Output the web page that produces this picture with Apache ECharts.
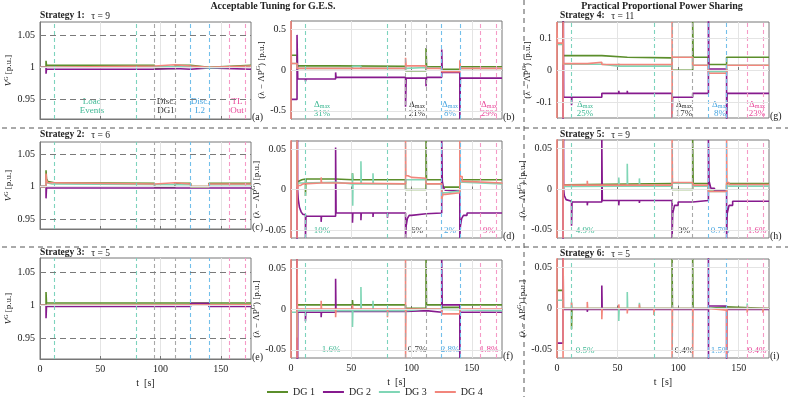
<!DOCTYPE html>
<html>
<head>
<meta charset="utf-8">
<script src="https://cdn.jsdelivr.net/npm/echarts@6/dist/echarts.min.js"></script>
<style>
html, body { margin: 0; padding: 0; background: #fff; }
#chart { width: 793px; height: 397px; }
</style>
</head>
<body>
<div id="chart"></div>
<script>
// ---- data (t in s, values in p.u.) ----
const tTicks = [0, 50, 100, 150];
const vTicks = [0.95, 1, 1.05];
const wideTicks = [-0.5, 0, 0.5];
const midTicks = [-0.1, 0, 0.1];
const fineTicks = [-0.05, 0, 0.05];
const eventTimes = [12, 80, 95, 112, 125, 140, 157, 170];
const eventKinds = ['load', 'load', 'dg', 'dg', 'l2', 'l2', 'tl', 'tl'];
const seriesNames = ['DG 1', 'DG 2', 'DG 3', 'DG 4'];

// (a) strategy 1, V^G
const a_dg1 = [[0,1.0],[5,1.01],[5.4,1.003],[95,0.998],[112,1.003],[125,1.0],[140,1.003],[175,1.003]];
const a_dg2 = [[0,1.0],[5,0.99],[5.4,0.997],[95,0.998],[112,0.997],[125,0.999],[140,0.997],[175,0.997]];
const a_dg3 = [[0,1.0],[5,1.001],[125,0.999],[140,1.001],[175,1.001]];
const a_dg4 = [[0,1.0],[5,1.002],[95,1.004],[112,1.002],[125,1.0],[140,1.002],[175,1.002]];
// (c) strategy 2, V^G
const c_dg1 = [[0,1.0],[5,1.025],[5.4,1.012],[6.5,1.008],[8,1.006],[12,1.005],[95,0.999],[112,1.005],[125,1.0],[140,1.005],[175,1.005]];
const c_dg2 = [[0,1.0],[5,0.982],[5.4,0.998],[175,0.998]];
const c_dg3 = [[0,1.0],[5,1.01],[5.4,1.006],[7,1.004],[10,1.003],[125,0.999],[140,1.003],[175,1.003]];
const c_dg4 = [[0,1.0],[5,1.02],[5.4,1.01],[6.5,1.006],[9,1.004],[95,1.006],[112,1.004],[125,1.0],[140,1.004],[175,1.004]];
// (e) strategy 3, V^G
const e_dg1 = [[0,1.0],[5,1.02],[5.4,1.0035],[175,1.0035]];
const e_dg2 = [[0,1.0],[5,0.98],[5.4,0.998],[125,1.003],[140,0.998],[175,0.998]];
const e_dg3 = [[0,1.0],[175,1.0]];
const e_dg4 = [[0,1.0],[5,1.0005],[175,1.0005]];

// (b) strategy 1, lambda - Lambda P^G
const b_dg1 = [[0,0.18],[5,0.05],[37,0.045],[95,-0.01],[112,0.27],[112.5,0.04],[125,0.01],[140,0.04],[175,0.04]];
const b_dg2 = [[0,-0.36],[5,0.43],[5.6,-0.11],[12,-0.14],[12.4,-0.11],[37,-0.03],[37.4,-0.09],[58,-0.1],[58.4,-0.09],[95,-0.45],[95.5,-0.1],[112,-0.2],[112.4,-0.09],[125,0.25],[125.4,-0.03],[140,-0.6],[140.5,-0.1],[175,-0.1]];
const b_dg3 = [[0,0.08],[5,0.02],[51,0.045],[58,0.02],[95,0.03],[112,0.02],[125,-0.01],[140,0.02],[175,0.02]];
const b_dg4 = [[0,-0.6],[0.01,0.6],[0.3,0.08],[5,0.02],[95,0.15],[95.5,0.05],[112,0.02],[125,-0.02],[140,0.12],[140.5,0.02],[175,0.02]];
// (d) strategy 2
const d_dg1 = [[0,0.18],[5,0.006],[6,0.01],[7.5,0.012],[9,0.013],[12,-0.008],[12.4,0.013],[37,0.012],[51,0.02],[51.3,0.012],[95,0],[112,0.06],[112.4,0.012],[125,0.003],[140,0.012],[175,0.012]];
const d_dg2 = [[0,-0.36],[5,0.43],[5.5,0],[6,-0.012],[7,-0.022],[8.5,-0.028],[10,-0.031],[12,-0.06],[12.4,-0.033],[25,-0.04],[25.3,-0.033],[37,0.052],[37.4,-0.029],[51,-0.041],[51.3,-0.029],[58,-0.038],[58.3,-0.029],[68,-0.034],[68.3,-0.029],[80,-0.035],[80.3,-0.029],[95,-0.06],[95.5,-0.045],[96.5,-0.036],[98,-0.032],[100,-0.03],[112,-0.029],[125,0.06],[125.5,0.01],[126.5,0.002],[128,-0.001],[130,-0.002],[140,-0.06],[140.5,-0.045],[141.5,-0.036],[143,-0.032],[146,-0.029],[175,-0.029]];
const d_dg3 = [[0,0.08],[5,0.003],[6,0.008],[8,0.009],[37,0.007],[51,0.02],[51.2,-0.02],[51.4,0.007],[58,0.035],[58.3,0.007],[68,0.02],[68.3,0.007],[95,0.012],[112,0.007],[125,-0.012],[126,-0.004],[128,-0.002],[140,0.013],[141,0.009],[143,0.007],[175,0.007]];
const d_dg4 = [[0,-0.06],[0.01,0.06],[0.3,0.08],[5,-0.06],[5.05,0.06],[5.3,0],[6,0.005],[8,0.007],[10,0.008],[25,0.015],[25.3,0.008],[37,0.007],[95,0.06],[95.3,0.017],[97,0.015],[100,0.014],[112,0.007],[125,-0.012],[126,-0.006],[128,-0.004],[140,0.06],[140.3,0.016],[142,0.01],[145,0.008],[175,0.007]];
// (f) strategy 3
const f_dg1 = [[0,0.18],[5,0.005],[51,0.011],[51.3,0.005],[95,0.001],[112,0.06],[112.4,0.005],[125,0.002],[140,0.005],[175,0.005]];
const f_dg2 = [[0,-0.36],[5,0.43],[5.3,-0.3],[5.6,-0.004],[12,-0.015],[12.3,-0.004],[25,-0.01],[25.3,-0.004],[37,0.037],[37.3,-0.003],[95,-0.002],[112,-0.004],[125,0.06],[125.4,0.005],[140,-0.06],[140.4,-0.004],[175,-0.004]];
const f_dg3 = [[0,-0.004],[5,-0.035],[5.3,-0.002],[51,-0.022],[51.3,-0.002],[58,0.027],[58.3,-0.002],[68,0.01],[68.3,-0.002],[95,0],[112,-0.002],[175,-0.002]];
const f_dg4 = [[0,-0.06],[0.01,0.06],[0.3,0.08],[5,-0.06],[5.05,0.06],[5.3,0],[25,0.01],[25.3,0],[37,-0.01],[37.3,0],[51,0.005],[51.3,0],[80,-0.01],[80.3,0],[95,0.06],[95.05,-0.06],[95.3,0],[125,-0.006],[140,0],[175,0]];

// (g) strategy 4
const g_dg1 = [[0,0.18],[5,0.045],[37,0.04],[58,0.038],[95,-0.001],[112,0.15],[112.4,0.04],[125,0.017],[140,0.04],[175,0.04]];
const g_dg2 = [[0,-0.36],[5,0.43],[5.5,-0.085],[12,-0.11],[12.3,-0.085],[25,-0.09],[25.3,-0.085],[37,-0.073],[51,-0.065],[51.3,-0.073],[58,-0.065],[58.3,-0.073],[68,-0.068],[68.3,-0.073],[95,-0.15],[95.4,-0.085],[112,-0.073],[125,0.2],[125.4,0.003],[140,-0.2],[140.4,-0.073],[175,-0.073]];
const g_dg3 = [[0,0.08],[5,0.018],[37,0.012],[51,0.02],[51.3,0.012],[95,0.04],[112,0.015],[125,-0.005],[140,0.015],[175,0.015]];
const g_dg4 = [[0,-0.15],[0.01,0.15],[0.3,0.084],[5,-0.15],[5.05,0.15],[5.3,0.02],[25,0.024],[37,0.017],[95,0.15],[95.05,-0.15],[95.1,0.04],[112,0.015],[125,-0.01],[140,0.015],[175,0.015]];
// (h) strategy 5
const h_dg1 = [[0,0.18],[5,0.005],[7,0.0068],[95,-0.0006],[112,0.06],[112.4,0.0068],[125,-0.001],[140,0.0068],[175,0.0068]];
const h_dg2 = [[0,-0.36],[5,0.43],[5.5,0],[6,-0.008],[7.5,-0.013],[9,-0.015],[12,-0.045],[12.4,-0.016],[25,-0.02],[25.3,-0.016],[37,0.06],[37.4,-0.014],[51,-0.02],[51.3,-0.014],[58,-0.016],[58.3,-0.014],[68,-0.017],[68.3,-0.014],[80,-0.016],[80.3,-0.014],[95,-0.06],[95.5,-0.03],[97,-0.02],[100,-0.016],[112,-0.014],[125,0.06],[125.5,0.01],[127,0.001],[130,-0.002],[140,-0.06],[140.5,-0.03],[142,-0.02],[145,-0.015],[175,-0.015]];
const h_dg3 = [[0,0.08],[5,0],[6,0.003],[8,0.0035],[51,0.014],[51.3,0.0035],[58,0.031],[58.3,0.0035],[68,0.013],[68.3,0.0035],[95,0.007],[112,0.0035],[125,-0.003],[140,0.0035],[175,0.0035]];
const h_dg4 = [[0,-0.06],[0.01,0.06],[0.3,0.08],[5,-0.06],[5.05,0.06],[5.3,0.0047],[25,0.01],[25.3,0.0047],[95,0.06],[95.3,0.008],[112,0.0047],[125,-0.003],[140,0.06],[140.3,0.008],[142,0.0055],[175,0.0047]];
// (i) strategy 6
const i_dg1 = [[0,0.022],[5,0],[12,-0.025],[12.3,0],[95,0.06],[95.3,0],[112,0.06],[112.3,0],[125,0.002],[140,0],[175,0]];
const i_dg2 = [[0,-0.042],[5,0.08],[5.3,-0.001],[25,-0.004],[25.3,-0.001],[37,0.028],[37.3,-0.001],[125,0.08],[125.05,-0.08],[125.1,0.003],[140,-0.08],[140.3,-0.001],[175,-0.001]];
const i_dg3 = [[0,0.01],[5,0],[12,0.008],[12.3,0],[51,-0.015],[51.3,0],[58,0.02],[58.3,0],[68,0.007],[68.3,0],[157,0.006],[157.3,0],[175,0]];
const i_dg4 = [[0,-0.06],[0.01,0.06],[0.3,0.08],[5,-0.06],[5.05,0.06],[5.3,0],[12,0.007],[12.3,0],[25,0.008],[25.3,0],[37,-0.013],[37.3,0],[51,0.005],[51.3,0],[58,-0.006],[58.3,0],[68,0.005],[68.3,0],[80,-0.008],[80.3,0],[95,-0.06],[95.3,0],[112,-0.06],[112.3,0],[125,-0.002],[140,-0.06],[140.3,0],[157,-0.005],[157.3,0],[170,-0.005],[170.3,0],[175,0]];

// annotation texts
const deltaMid = ['31%', '21%', '8%', '29%'];
const deltaRight = ['25%', '17%', '8%', '23%'];
const devMid2 = ['10%', '6%', '2%', '9%'];
const devRight2 = ['4.9%', '3%', '0.7%', '1.6%'];
const devMid3 = ['1.6%', '0.7%', '2.8%', '1.8%'];
const devRight3 = ['0.5%', '0.4%', '1.5%', '0.4%'];
const strategyTau = [9, 6, 5, 11, 9, 5];

// ---- styling ----
const FONT = "'Liberation Serif', 'DejaVu Serif', serif";
const colors = ['#5b8e2b', '#861a8e', '#80d6b6', '#f2867c'];
const eventColor = { load: '#7dd3bd', dg: '#a8a8a8', l2: '#73bfea', tl: '#f59ac6' };
const annColors = ['#3fb894', '#333333', '#4aa6e0', '#e8489a'];

const panels = [
  { box: [40, 22, 211, 97],   y: [0.92, 1.07],    ticks: vTicks,    lines: [a_dg1, a_dg2, a_dg3, a_dg4], v: true,  col: 0, last: false, tag: '(a)' },
  { box: [291, 21, 211, 98],  y: [-0.6, 0.6],     ticks: wideTicks, lines: [b_dg1, b_dg2, b_dg3, b_dg4], v: false, col: 1, last: false, tag: '(b)' },
  { box: [557, 22, 212, 96],  y: [-0.15, 0.15],   ticks: midTicks,  lines: [g_dg1, g_dg2, g_dg3, g_dg4], v: false, col: 2, last: false, tag: '(g)' },
  { box: [40, 142, 211, 87],  y: [0.935, 1.0685], ticks: vTicks,    lines: [c_dg1, c_dg2, c_dg3, c_dg4], v: true,  col: 0, last: false, tag: '(c)' },
  { box: [291, 141, 211, 97], y: [-0.06, 0.06],   ticks: fineTicks, lines: [d_dg1, d_dg2, d_dg3, d_dg4], v: false, col: 1, last: false, tag: '(d)' },
  { box: [557, 140, 212, 98], y: [-0.06, 0.06],   ticks: fineTicks, lines: [h_dg1, h_dg2, h_dg3, h_dg4], v: false, col: 2, last: false, tag: '(h)' },
  { box: [40, 258, 211, 101], y: [0.918, 1.072],  ticks: vTicks,    lines: [e_dg1, e_dg2, e_dg3, e_dg4], v: true,  col: 0, last: true,  tag: '(e)' },
  { box: [291, 260, 211, 98], y: [-0.06, 0.06],   ticks: fineTicks, lines: [f_dg1, f_dg2, f_dg3, f_dg4], v: false, col: 1, last: true,  tag: '(f)' },
  { box: [557, 259, 212, 99], y: [-0.06, 0.06],   ticks: fineTicks, lines: [i_dg1, i_dg2, i_dg3, i_dg4], v: false, col: 2, last: true,  tag: '(i)' }
];

const grid = [], xAxis = [], yAxis = [], series = [], graphic = [];
const nameGaps = [24, 20, 16];

panels.forEach((p, i) => {
  grid.push({ left: p.box[0], top: p.box[1], width: p.box[2], height: p.box[3],
    show: true, borderColor: '#777', borderWidth: 1, backgroundColor: '#fff' });
  xAxis.push({
    gridIndex: i, type: 'value', min: 0, max: 175, interval: 50,
    axisLine: { show: true, lineStyle: { color: '#777' } },
    axisTick: { show: true, inside: true, length: 3, customValues: tTicks, lineStyle: { color: '#777' } },
    axisLabel: { show: p.last, customValues: tTicks, fontFamily: FONT, fontSize: 10, color: '#222', margin: 5 },
    splitLine: { show: true, lineStyle: { color: '#e4e4e4', width: 1 } },
    name: p.last ? 't  [s]' : '', nameLocation: 'middle', nameGap: 19,
    nameTextStyle: { fontFamily: FONT, fontSize: 10, color: '#222' }
  });
  yAxis.push({
    gridIndex: i, type: 'value', min: p.y[0], max: p.y[1],
    axisLine: { show: true, lineStyle: { color: '#777' } },
    axisTick: { show: true, inside: true, length: 3, customValues: p.ticks, lineStyle: { color: '#777' } },
    axisLabel: { customValues: p.ticks, fontFamily: FONT, fontSize: 10, color: '#222', margin: 5 },
    splitLine: { show: false },
    name: p.v ? '{it|V}{sup|G} [p.u.]' : '(λ − ΛP{sup|G}) [p.u.]',
    nameLocation: 'middle', nameRotate: 90, nameGap: nameGaps[p.col],
    nameTextStyle: { fontFamily: FONT, fontSize: 9, color: '#222',
      rich: { it: { fontFamily: FONT, fontSize: 9, fontStyle: 'italic', color: '#222' },
              sup: { fontFamily: FONT, fontSize: 6, color: '#222', padding: [0, 0, 6, 0] } } }
  });

  // reference lines: event markers and horizontal grid / limit lines
  const mark = eventTimes.map((t, k) => ({ xAxis: t,
    lineStyle: { color: eventColor[eventKinds[k]], type: [4, 3], width: 1.1 } }));
  p.ticks.forEach(v => {
    const limit = p.v && v !== 1;
    mark.push({ yAxis: v, lineStyle: limit
      ? { color: '#7a7a7a', type: [6, 4], width: 1 }
      : { color: '#e4e4e4', type: 'solid', width: 1 } });
  });
  series.push({ type: 'line', name: 'ref' + i, xAxisIndex: i, yAxisIndex: i, data: [], silent: true,
    markLine: { silent: true, symbol: ['none', 'none'], label: { show: false }, animation: false, data: mark } });

  p.lines.forEach((d, k) => {
    series.push({ type: 'line', name: seriesNames[k], xAxisIndex: i, yAxisIndex: i, data: d,
      step: 'end', symbol: 'none', showSymbol: false, color: colors[k], clip: true,
      lineStyle: { width: 1.6, color: colors[k] }, animation: false });
  });

  graphic.push({ type: 'text', left: p.box[0] + p.box[2] + 1, top: p.box[1] + p.box[3] - 7,
    style: { text: p.tag, font: '10px ' + FONT, fill: '#222' } });
});

// titles
graphic.push({ type: 'text', x: 273, y: 6, style: { text: 'Acceptable Tuning for G.E.S.', font: 'bold 10px ' + FONT, fill: '#222', textAlign: 'center', textVerticalAlign: 'middle' } });
graphic.push({ type: 'text', x: 662, y: 6, style: { text: 'Practical Proportional Power Sharing', font: 'bold 10px ' + FONT, fill: '#222', textAlign: 'center', textVerticalAlign: 'middle' } });

// strategy labels
const stratPos = [[40, 16], [40, 135], [40, 253], [560, 16], [560, 135], [560, 254]];
strategyTau.forEach((tau, k) => {
  graphic.push({ type: 'text', x: stratPos[k][0], y: stratPos[k][1],
    style: { text: '{b|Strategy ' + (k + 1) + ':}  {n|τ = ' + tau + '}', textVerticalAlign: 'middle',
      rich: { b: { fontFamily: FONT, fontSize: 9.5, fontWeight: 'bold', fill: '#222', color: '#222' },
              n: { fontFamily: FONT, fontSize: 9.5, fill: '#222', color: '#222' } } } });
});

// load event labels in (a)
const evLabels = [['Load', 'Events', 92], ['Disc.', 'DG1', 166], ['Disc.', 'L2', 200], ['TL', 'Out', 237]];
evLabels.forEach((e, k) => {
  graphic.push({ type: 'text', x: e[2], y: 106, style: { text: e[0] + '\n' + e[1], font: '9px ' + FONT, fill: annColors[k], textAlign: 'center', textVerticalAlign: 'middle', lineHeight: 9 } });
});

// Delta_max labels in row 1
function deltaLabel(x, pct, color) {
  graphic.push({ type: 'text', x: x, y: 109,
    style: { text: '{d|Δ}{s|max}\n{p|' + pct + '}', textAlign: 'center', textVerticalAlign: 'middle',
      rich: { d: { fontFamily: FONT, fontSize: 9, color: color, fill: color, lineHeight: 9 },
              s: { fontFamily: FONT, fontSize: 6, color: color, fill: color, padding: [4, 0, 0, 0], lineHeight: 9 },
              p: { fontFamily: FONT, fontSize: 9, color: color, fill: color, lineHeight: 9 } } } });
}
const midX = [322, 417, 450, 489];
const rightX = [585, 684, 720, 757];
deltaMid.forEach((t, k) => deltaLabel(midX[k], t, annColors[k]));
deltaRight.forEach((t, k) => deltaLabel(rightX[k], t, annColors[k]));

function pctLabel(x, y, txt, color) {
  graphic.push({ type: 'text', x: x, y: y, style: { text: txt, font: '9px ' + FONT, fill: color, textAlign: 'center', textVerticalAlign: 'middle' } });
}
devMid2.forEach((t, k) => pctLabel(midX[k], 231, t, annColors[k]));
devRight2.forEach((t, k) => pctLabel(rightX[k], 231, t, annColors[k]));
devMid3.forEach((t, k) => pctLabel(k === 0 ? 331 : midX[k], 350, t, annColors[k]));
devRight3.forEach((t, k) => pctLabel(rightX[k], 351, t, annColors[k]));

// dashed separators
const sepStyle = { stroke: '#555', lineWidth: 1, lineDash: [5, 4] };
graphic.push({ type: 'line', shape: { x1: 2, y1: 128, x2: 788, y2: 128 }, style: sepStyle, silent: true });
graphic.push({ type: 'line', shape: { x1: 2, y1: 247, x2: 788, y2: 247 }, style: sepStyle, silent: true });
graphic.push({ type: 'line', shape: { x1: 524, y1: 0, x2: 524, y2: 397 }, style: sepStyle, silent: true });

const chart = echarts.init(document.getElementById('chart'), null, { renderer: 'canvas' });
chart.setOption({
  animation: false,
  backgroundColor: '#fff',
  textStyle: { fontFamily: FONT },
  grid: grid,
  xAxis: xAxis,
  yAxis: yAxis,
  legend: {
    data: seriesNames, left: 262, top: 382, icon: 'rect', itemWidth: 21, itemHeight: 2, itemGap: 8,
    textStyle: { fontFamily: FONT, fontSize: 10, color: '#222' }, selectedMode: false
  },
  series: series,
  graphic: graphic
});
</script>
</body>
</html>
